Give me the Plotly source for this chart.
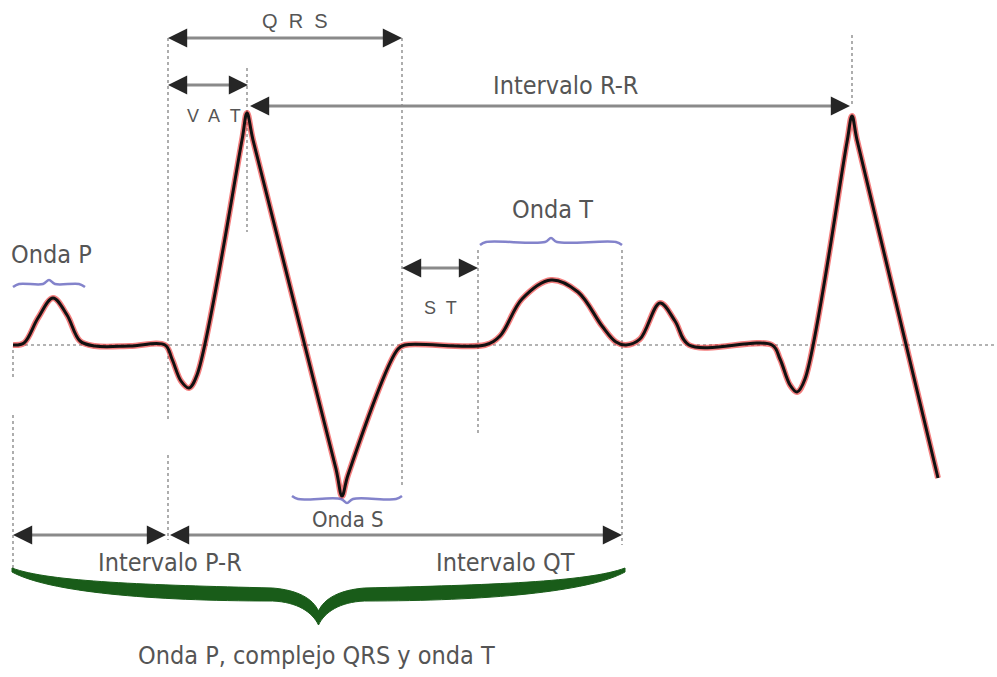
import plotly.graph_objects as go

# ---------------- data ----------------
# ECG trace: time position (chart units) and amplitude above the isoelectric baseline
ecg_t = [13, 24, 38, 53, 67, 80, 95, 130, 165, 172, 181, 189, 197, 242, 247, 253,
         336, 342, 348, 398, 405, 485, 500, 522, 551, 578, 602, 616, 626, 640, 660,
         675, 689, 772, 780, 790, 797, 805, 847, 852, 857, 938]
ecg_amp = [0, 2, 27, 47, 30, 4, -1, -1, 0, -14, -36, -43, -30, 205, 232, 205,
           -124, -151, -130, -4, 0, 0, 9, 46, 65, 53, 19, 3, 0, 6, 42,
           24, 0, 0, -14, -40, -47, -34, 203, 229, 205, -133]

# Interval measurements (start / end on the time axis)
interval_labels = ["Q R S", "V A T", "Intervalo R-R", "S T", "Intervalo P-R", "Intervalo QT"]
interval_start = [168, 168, 250, 402, 13, 170]
interval_end = [402, 248, 850, 478, 166, 622]

# Wave spans marked with braces
wave_labels = ["Onda P", "Onda T", "Onda S"]
wave_start = [13, 480, 292]
wave_end = [85, 622, 402]

# Vertical reference marks (time positions)
ref_t = [13, 168, 247, 402, 478, 622, 852]

whole_label = "Onda P, complejo QRS y onda T"
whole_start, whole_end = 12, 625

# ---------------- layout helpers ----------------
W, H = 997, 677
BASE = 345  # vertical position (px from top) of the baseline


def Y(p):
    """convert a px-from-top layout position into the amplitude axis"""
    return BASE - p


TXT = "#555555"
NARROW = "Liberation Sans Narrow, DejaVu Sans Condensed, Arial Narrow, sans-serif"
PLAIN = "Liberation Sans, Arial, sans-serif"
DOT = dict(color="#9a9a9a", width=1.6, dash="dot")

fig = go.Figure()
annotations = []
shapes = []

# dotted isoelectric line
fig.add_trace(go.Scatter(x=[ref_t[0], W], y=[0, 0], mode="lines", line=DOT, hoverinfo="skip"))

# vertical dotted reference lines (segments in px-from-top)
vseg = {
    13: [(350, 378), (415, 568)],
    168: [(38, 420), (455, 540)],
    247: [(68, 232)],
    402: [(38, 487)],
    478: [(250, 435)],
    622: [(250, 545)],
    852: [(35, 105)],
}
for t in ref_t:
    for a, b in vseg[t]:
        fig.add_trace(go.Scatter(x=[t, t], y=[Y(a), Y(b)], mode="lines", line=DOT, hoverinfo="skip"))

# ECG: red halo + black line
fig.add_trace(go.Scatter(x=ecg_t, y=ecg_amp, mode="lines",
                         line=dict(color="rgba(235,40,40,0.6)", width=6, shape="spline"),
                         hoverinfo="skip"))
fig.add_trace(go.Scatter(x=ecg_t, y=ecg_amp, mode="lines",
                         line=dict(color="#111111", width=3, shape="spline"),
                         hoverinfo="skip"))


def head(xtip, ypix, direction):
    annotations.append(dict(
        x=xtip, y=Y(ypix), ax=xtip - direction * 17, ay=Y(ypix),
        xref="x", yref="y", axref="x", ayref="y", text="",
        showarrow=True, arrowhead=2, arrowsize=1.2, arrowwidth=3.2,
        arrowcolor="#262626", standoff=0, startstandoff=0))


def double_arrow(x0, x1, ypix):
    fig.add_trace(go.Scatter(x=[x0 + 8, x1 - 8], y=[Y(ypix)] * 2, mode="lines",
                             line=dict(color="#8a8a8a", width=3), hoverinfo="skip"))
    head(x0, ypix, -1)
    head(x1, ypix, 1)


def label(text, x, ypix, size, family=NARROW):
    annotations.append(dict(x=x, y=Y(ypix), xref="x", yref="y", text=text, showarrow=False,
                            xanchor="center", yanchor="middle",
                            font=dict(family=family, size=size, color=TXT)))


# interval arrows and labels
arrow_y = [38, 85, 106, 268, 535, 535]
label_pos = [(295, 21, 20, PLAIN), (214, 116, 18, PLAIN), (565, 85, 25, NARROW),
             (440, 308, 18, PLAIN), (170, 562, 25, NARROW), (505, 562, 25, NARROW)]
for name, s, e, ay, (lx, ly, fs, fam) in zip(interval_labels, interval_start, interval_end, arrow_y, label_pos):
    double_arrow(s, e, ay)
    lab = name.replace(" ", "\u00a0 ") if fam == PLAIN else name
    label(lab, lx, ly, fs, fam)


# small blue braces over/under waves
def small_brace(x0, x1, ypix, up=True):
    s = -1 if up else 1
    m = (x0 + x1) / 2
    pts = [(x0, ypix - s * 3), (x0 + 6, ypix), (m - 6, ypix), (m, ypix + s * 4),
           (m + 6, ypix), (x1 - 6, ypix), (x1, ypix - s * 3)]
    fig.add_trace(go.Scatter(x=[p[0] for p in pts], y=[Y(p[1]) for p in pts], mode="lines",
                             line=dict(color="rgba(90,90,185,0.75)", width=2.5, shape="spline"),
                             hoverinfo="skip"))


brace_y = [284, 242, 499]
brace_up = [True, True, False]
wave_label_pos = [(51, 254, 25), (552, 209, 25), (348, 519, 22)]
for name, s, e, by, up, (lx, ly, fs) in zip(wave_labels, wave_start, wave_end, brace_y, brace_up, wave_label_pos):
    small_brace(s, e, by, up)
    label(name, lx, ly, fs)


# big green brace
def big_brace(x0, x1, top):
    m = (x0 + x1) / 2
    d = m - x0
    P = lambda x, p: f"{x},{Y(p)}"
    path = (
        f"M {P(x0, top)} "
        f"C {P(x0 + 0.12 * d, top + 14)} {P(x0 + 0.45 * d, top + 17)} {P(m - 0.15 * d, top + 20)} "
        f"C {P(m - 0.07 * d, top + 22)} {P(m - 0.02 * d, top + 30)} {P(m, top + 43)} "
        f"C {P(m + 0.02 * d, top + 30)} {P(m + 0.07 * d, top + 22)} {P(m + 0.15 * d, top + 20)} "
        f"C {P(x1 - 0.45 * d, top + 17)} {P(x1 - 0.12 * d, top + 14)} {P(x1, top)} "
        f"L {P(x1, top + 4)} "
        f"C {P(x1 - 0.12 * d, top + 24)} {P(x1 - 0.45 * d, top + 33)} {P(m + 0.15 * d, top + 33)} "
        f"C {P(m + 0.07 * d, top + 34)} {P(m + 0.02 * d, top + 44)} {P(m, top + 57)} "
        f"C {P(m - 0.02 * d, top + 44)} {P(m - 0.07 * d, top + 34)} {P(m - 0.15 * d, top + 33)} "
        f"C {P(x0 + 0.45 * d, top + 33)} {P(x0 + 0.12 * d, top + 24)} {P(x0, top + 4)} Z"
    )
    shapes.append(dict(type="path", path=path, xref="x", yref="y",
                       fillcolor="#195c19", line=dict(color="#195c19", width=1)))


big_brace(whole_start, whole_end, 568)
label(whole_label, (whole_start + whole_end) / 2 - 2, 655, 25)

fig.update_layout(
    width=W, height=H,
    margin=dict(l=0, r=0, t=0, b=0, pad=0),
    paper_bgcolor="white", plot_bgcolor="white",
    showlegend=False,
    xaxis=dict(range=[0, W], visible=False, fixedrange=True),
    yaxis=dict(range=[BASE - H, BASE], visible=False, fixedrange=True),
    annotations=annotations, shapes=shapes,
)

fig.write_html("out.html", config={"displayModeBar": False, "staticPlot": True},
               post_script="document.body.style.margin='0';")
